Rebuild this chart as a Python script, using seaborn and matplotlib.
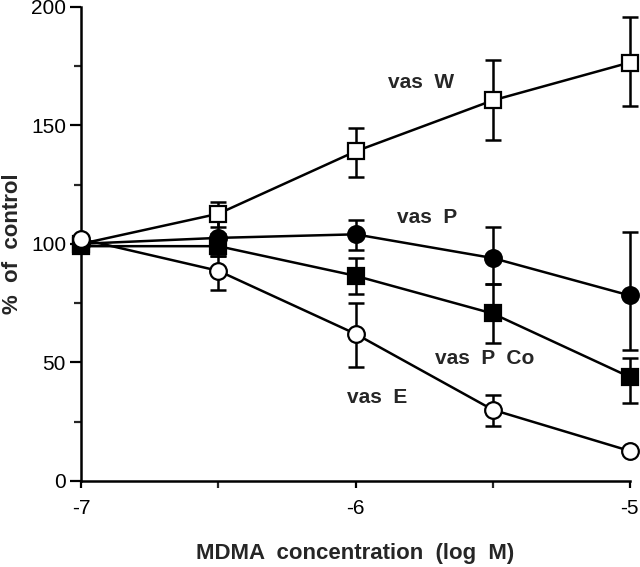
import matplotlib
matplotlib.use("Agg")
import matplotlib.pyplot as plt
import numpy as np
import pandas as pd
import seaborn as sns
from matplotlib.ticker import MultipleLocator

# --- Data ---
log_conc = [-7, -6.5, -6, -5.5, -5]

vas_w = [100, 112.7, 139, 160.5, 176.5]
vas_w_lo = [100, 107, 128, 143.7, 158]
vas_w_hi = [100, 117.6, 149, 177.7, 195.8]

vas_p = [100, 102.5, 104, 94, 78.2]
vas_p_lo = [100, 98, 97.5, 83, 55]
vas_p_hi = [100, 110, 110, 107, 105]

vas_pco = [99, 99, 86.5, 70.6, 43.8]
vas_pco_lo = [99, 95, 79, 58, 32.8]
vas_pco_hi = [99, 104, 94.2, 83, 52]

vas_e = [102, 88.6, 62, 30, 12.6]
vas_e_lo = [102, 80.7, 48, 23, 12.6]
vas_e_hi = [102, 95, 75, 36, 12.6]

series_names = ["vas W", "vas P", "vas P Co", "vas E"]
label_pos = [(-5.76, 168), (-5.74, 111), (-5.53, 51.7), (-5.92, 35.3)]

series = {
    "vas W": (vas_w, vas_w_lo, vas_w_hi),
    "vas P": (vas_p, vas_p_lo, vas_p_hi),
    "vas P Co": (vas_pco, vas_pco_lo, vas_pco_hi),
    "vas E": (vas_e, vas_e_lo, vas_e_hi),
}
markers = {"vas W": "s", "vas P": "o", "vas P Co": "s", "vas E": "o"}
faces = {"vas W": "white", "vas P": "black", "vas P Co": "black", "vas E": "white"}

sns.set_style("ticks")
plt.rcParams["font.family"] = ["Liberation Sans", "DejaVu Sans"]

fig = plt.figure(figsize=(6.4, 5.67), dpi=100)
ax = fig.add_axes([0.127, 0.152, 0.857, 0.836])

# error bars first, so the markers sit on top
for name in series_names:
    y, lo, hi = series[name]
    y = np.array(y)
    ax.errorbar(log_conc, y, yerr=[y - np.array(lo), np.array(hi) - y],
                fmt="none", ecolor="black", elinewidth=1.8, capsize=6,
                capthick=1.8, zorder=2, clip_on=False)

for name in series_names:
    d = pd.DataFrame({"x": log_conc, "y": series[name][0]})
    sns.lineplot(data=d, x="x", y="y", color="black", marker=markers[name],
                 markersize=12, markerfacecolor=faces[name],
                 markeredgecolor="black", markeredgewidth=1.6,
                 linewidth=1.8, ax=ax, zorder=3, clip_on=False)

for name, (lx, ly) in zip(series_names, label_pos):
    ax.text(lx, ly, name.replace(" ", "  "), fontsize=15, fontweight="bold",
            ha="center", va="center")

ax.set_xlim(-7, -5)
ax.set_ylim(0, 200)
ax.set_xticks([-7, -6, -5])
ax.set_xticklabels(["-7", "-6", "-5"])
ax.xaxis.set_minor_locator(MultipleLocator(0.5))
ax.set_yticks([0, 50, 100, 150, 200])
ax.yaxis.set_minor_locator(MultipleLocator(25))
ax.tick_params(axis="both", which="major", labelsize=15, width=1.6,
               color="black", labelcolor="black")
ax.tick_params(axis="y", which="major", length=8, pad=3)
ax.tick_params(axis="x", which="major", length=5, pad=8)
ax.tick_params(axis="both", which="minor", width=1.6, length=5)

for side in ["top", "right"]:
    ax.spines[side].set_visible(False)
for side in ["left", "bottom"]:
    ax.spines[side].set_linewidth(1.8)
    ax.spines[side].set_color("black")

ax.set_xlabel("MDMA  concentration  (log  M)", fontsize=16,
              fontweight="bold", labelpad=18)
ax.set_ylabel("%  of  control", fontsize=16, fontweight="bold", labelpad=6)

fig.savefig("out.png", dpi=100)
